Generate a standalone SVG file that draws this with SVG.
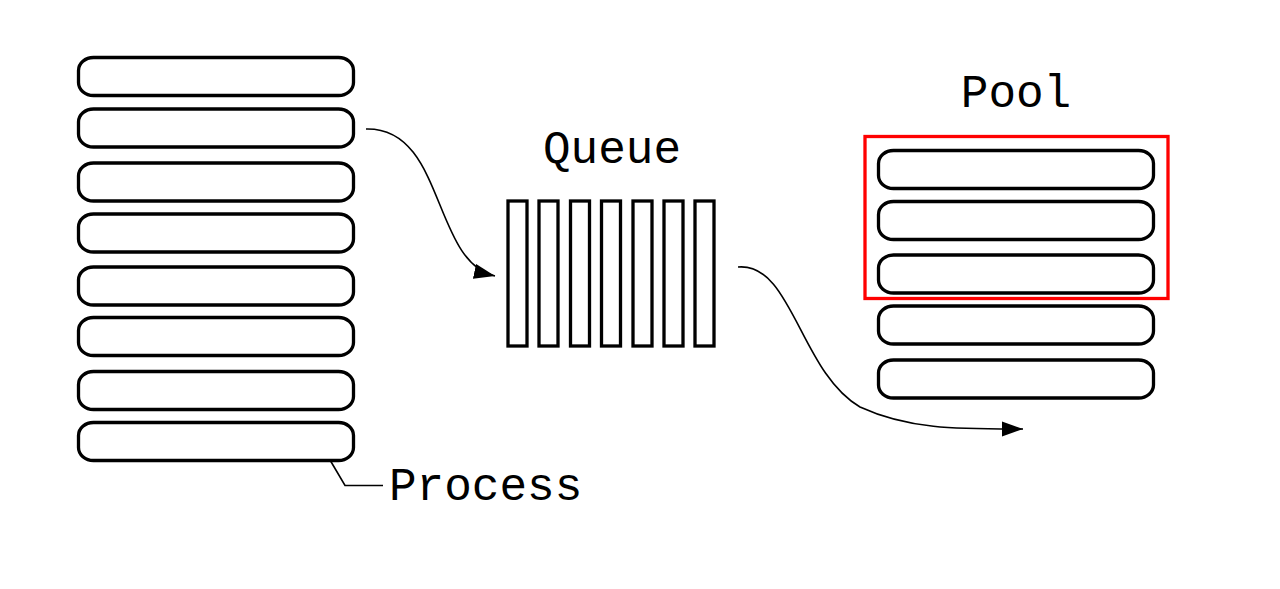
<svg xmlns="http://www.w3.org/2000/svg" width="1280" height="589" viewBox="0 0 1280 589">
<style>
.proc{fill:#fff;stroke:#000;stroke-width:3.3}
.slot{fill:#fff;stroke:#000;stroke-width:3.3}
.lbl{font-family:"Liberation Mono","Courier New",monospace;font-size:46px;fill:#000}
.conn{fill:none;stroke:#000;stroke-width:1.6}
</style>
<defs>
<marker id="arr" markerUnits="userSpaceOnUse" markerWidth="22" markerHeight="16" viewBox="0 0 22 16" refX="21" refY="8" orient="auto">
<path d="M0,0.5 L21,8 L0,15.5 z" fill="#000"/>
</marker>
<rect id="pbox" width="275" height="38" rx="15" ry="13"/>
</defs>
<rect width="1280" height="589" fill="#fff"/>
<g id="processes">
<use href="#pbox" class="proc" x="78.5" y="57.5"/>
<use href="#pbox" class="proc" x="78.5" y="109"/>
<use href="#pbox" class="proc" x="78.5" y="163"/>
<use href="#pbox" class="proc" x="78.5" y="214"/>
<use href="#pbox" class="proc" x="78.5" y="267"/>
<use href="#pbox" class="proc" x="78.5" y="317.5"/>
<use href="#pbox" class="proc" x="78.5" y="371.5"/>
<use href="#pbox" class="proc" x="78.5" y="422.5"/>
</g>
<g id="process-label">
<path class="conn" d="M330,460 L345,485.5 L383,485.5"/>
<text class="lbl" x="389" y="500">Process</text>
</g>
<g id="queue">
<text class="lbl" x="612" y="163" text-anchor="middle">Queue</text>
<rect class="slot" x="508" y="201" width="19" height="145"/>
<rect class="slot" x="539" y="201" width="19" height="145"/>
<rect class="slot" x="570.5" y="201" width="19" height="145"/>
<rect class="slot" x="601.5" y="201" width="19" height="145"/>
<rect class="slot" x="633" y="201" width="19" height="145"/>
<rect class="slot" x="664" y="201" width="19" height="145"/>
<rect class="slot" x="695" y="201" width="19" height="145"/>
</g>
<g id="pool">
<text class="lbl" x="1016" y="107" text-anchor="middle">Pool</text>
<use href="#pbox" class="proc" x="878.5" y="150.5"/>
<use href="#pbox" class="proc" x="878.5" y="201.5"/>
<use href="#pbox" class="proc" x="878.5" y="255"/>
<use href="#pbox" class="proc" x="878.5" y="306"/>
<use href="#pbox" class="proc" x="878.5" y="360"/>
<rect x="865" y="136.5" width="303" height="162" fill="none" stroke="#ff0000" stroke-width="3.3"/>
</g>
<g id="connectors">
<path class="conn" d="M366,129 C445,127 432,262 495,276" marker-end="url(#arr)"/>
<path class="conn" d="M738,267 C792,262 800,372 860,407 C910,430 960,429 1023,429" marker-end="url(#arr)"/>
</g>
</svg>
